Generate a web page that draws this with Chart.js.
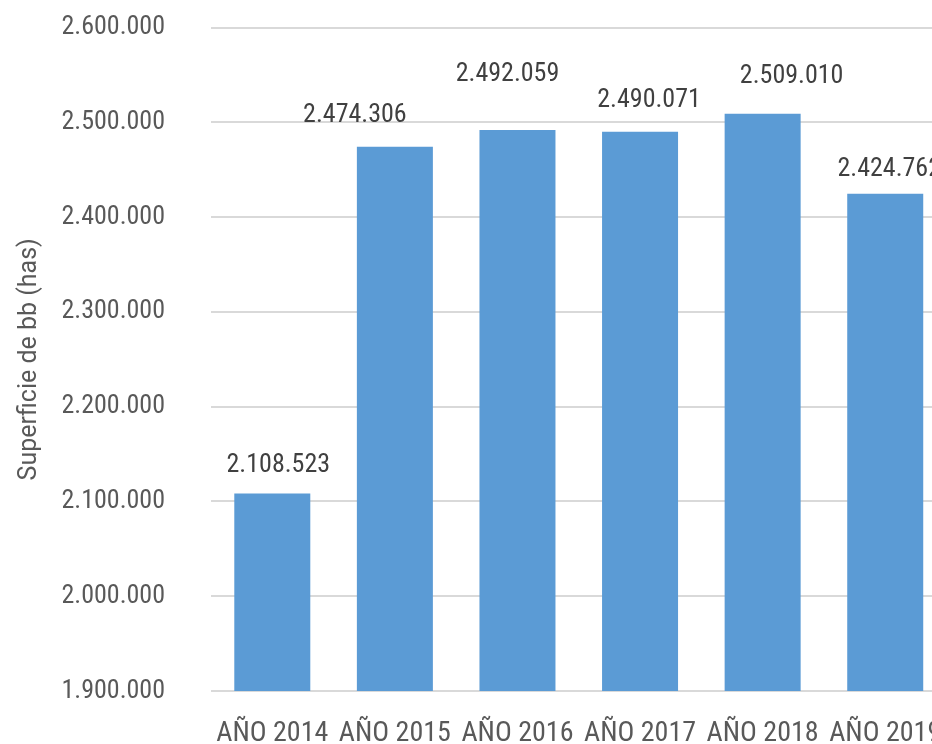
<!DOCTYPE html>
<html>
<head>
<meta charset="utf-8">
<script src="https://cdn.jsdelivr.net/npm/chart.js@4/dist/chart.umd.min.js"></script>
<style>
  html, body { margin: 0; padding: 0; background: #fff; overflow: hidden; }
  canvas { display: block; }
</style>
</head>
<body>
<canvas id="chart" width="960" height="744"></canvas>
<script>
const categories = ['AÑO 2014', 'AÑO 2015', 'AÑO 2016', 'AÑO 2017', 'AÑO 2018', 'AÑO 2019']
const superficie = [2108523, 2474306, 2492059, 2490071, 2509010, 2424762]
const yMin = 1900000
const yMax = 2600000
const yStep = 100000

const FONT = "'Roboto Condensed', 'Roboto', sans-serif"

const fmt = v => Math.round(v).toString().replace(/\B(?=(\d{3})+(?!\d))/g, '.')

// Excel labels were nudged by hand, keep the same nudges (px)
const labelNudge = [[6, -28], [-40, -31], [-10, -55], [9, -31], [29, -37], [4, -24]]

const valueLabels = {
  id: 'valueLabels',
  afterDatasetsDraw(chart) {
    const ctx = chart.ctx
    const meta = chart.getDatasetMeta(0)
    ctx.save()
    ctx.font = `26px ${FONT}`
    ctx.fillStyle = '#404040'
    ctx.textAlign = 'center'
    ctx.textBaseline = 'middle'
    meta.data.forEach((bar, i) => {
      const [dx, dy] = labelNudge[i]
      ctx.fillText(fmt(superficie[i]), bar.x + dx, bar.y + dy)
    })
    ctx.restore()
  }
}

new Chart(document.getElementById('chart'), {
  type: 'bar',
  data: {
    labels: categories,
    datasets: [{
      data: superficie,
      backgroundColor: '#5B9BD5',
      borderWidth: 0,
      categoryPercentage: 1,
      barPercentage: 0.62
    }]
  },
  options: {
    responsive: false,
    animation: false,
    layout: { padding: { top: 0, right: 9, left: 0, bottom: 0 } },
    plugins: {
      legend: { display: false },
      tooltip: { enabled: false }
    },
    scales: {
      x: {
        grid: { display: false },
        border: { display: false },
        ticks: {
          color: '#595959',
          font: { family: FONT, size: 28 },
          maxRotation: 0,
          autoSkip: false,
          padding: 18
        },
        afterFit(axis) { axis.height = 53 }
      },
      y: {
        min: yMin,
        max: yMax,
        grid: { color: '#d9d9d9', lineWidth: 2, drawTicks: true, tickLength: 34, tickColor: 'transparent' },
        border: { display: false },
        ticks: {
          stepSize: yStep,
          color: '#595959',
          font: { family: FONT, size: 26 },
          padding: 12,
          callback: v => fmt(v)
        },
        title: {
          display: true,
          text: 'Superficie de bb (has)',
          color: '#595959',
          font: { family: 'Roboto', size: 25 },
          padding: { top: 15, bottom: 0 }
        },
        afterFit(axis) { axis.width = 211 }
      }
    }
  },
  plugins: [valueLabels]
})
</script>
</body>
</html>
